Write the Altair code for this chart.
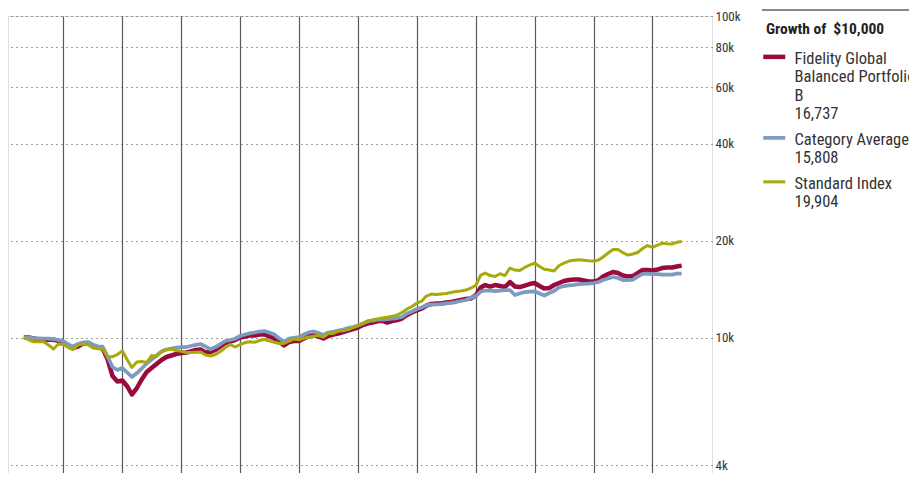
import altair as alt
import pandas as pd

# Monthly points, May 2007 .. Jul 2018
months = pd.date_range("2007-05-01", periods=135, freq="MS").strftime("%Y-%m-%d").tolist()

fidelity = [
    10000, 10000, 9929, 9858, 9823, 9865, 9837, 9767, 9648, 9410,
    9276, 9376, 9580, 9580, 9443, 9329, 9243, 8573, 7591, 7298,
    7350, 7041, 6649, 6966, 7403, 7811, 8038, 8272, 8512, 8697,
    8791, 8886, 8950, 8982, 9046, 9144, 9177, 8982, 9014, 9144,
    9376, 9614, 9718, 9823, 10000, 10072, 10144, 10144, 10217, 10217,
    10072, 9929, 9718, 9443, 9683, 9753, 9753, 9929, 10072, 10181,
    10072, 9929, 10108, 10217, 10291, 10402, 10514, 10628, 10742, 10936,
    11054, 11134, 11238, 11270, 11134, 11254, 11335, 11457, 11748, 11960,
    12133, 12308, 12575, 12711, 12756, 12756, 12848, 12894, 12987, 13080,
    13174, 13221, 13508, 14305, 14563, 14407, 14563, 14459, 14356, 14879,
    14407, 14356, 14511, 14668, 14773, 14459, 14202, 14253, 14563, 14773,
    14986, 15094, 15148, 15148, 15040, 14933, 14933, 15094, 15476, 15756,
    15983, 15869, 15587, 15476, 15531, 15869, 16214, 16214, 16156, 16272,
    16448, 16507, 16507, 16626, 16737,
]

category = [
    10000, 10000, 9964, 9943, 9929, 9929, 9893, 9823, 9753, 9511,
    9376, 9545, 9648, 9683, 9511, 9376, 9362, 8728, 8096, 7924,
    8038, 7783, 7537, 7756, 8009, 8301, 8543, 8791, 9046, 9177,
    9243, 9309, 9342, 9342, 9410, 9491, 9545, 9376, 9190, 9342,
    9545, 9753, 9823, 9914, 10108, 10217, 10305, 10365, 10439, 10476,
    10365, 10217, 9929, 9718, 9929, 9979, 10036, 10217, 10379, 10439,
    10327, 10181, 10365, 10417, 10514, 10590, 10704, 10781, 10897, 11054,
    11214, 11294, 11359, 11375, 11416, 11457, 11498, 11581, 11875, 12046,
    12264, 12396, 12602, 12665, 12683, 12711, 12775, 12820, 12894, 12987,
    13080, 13269, 13460, 13901, 14000, 14000, 13950, 14000, 14051, 14051,
    13557, 13703, 13851, 13901, 13920, 13703, 13508, 13752, 13950, 14325,
    14459, 14532, 14584, 14668, 14689, 14720, 14773, 14879, 15094, 15257,
    15422, 15312, 15094, 15094, 15148, 15476, 15778, 15812, 15756, 15756,
    15699, 15699, 15699, 15812, 15808,
]

standard_index = [
    10000, 9823, 9704, 9704, 9704, 9477, 9210, 9545, 9511, 9309,
    9177, 9477, 9545, 9511, 9296, 9223, 9210, 8716, 8716, 8854,
    9079, 8512, 8067, 8391, 8421, 8361, 8791, 8728, 9046, 9157,
    9210, 9111, 9066, 8982, 8982, 9001, 9014, 8822, 8759, 8854,
    9046, 9309, 9511, 9342, 9511, 9648, 9697, 9662, 9788, 9858,
    9767, 9662, 9580, 9580, 9753, 9893, 9837, 9943, 10036, 10094,
    10144, 10036, 10291, 10291, 10476, 10491, 10590, 10742, 10897, 11054,
    11254, 11335, 11416, 11498, 11564, 11639, 11748, 11960, 12264, 12485,
    12802, 12987, 13460, 13654, 13605, 13654, 13703, 13801, 13901, 13950,
    14051, 14253, 14511, 15643, 15869, 15587, 15476, 15789, 15587, 16448,
    16214, 16156, 16507, 16805, 17047, 16626, 16296, 16214, 16098, 16745,
    17047, 17293, 17380, 17455, 17380, 17318, 17293, 17418, 17796, 18313,
    18778, 18778, 18379, 18052, 18182, 18379, 18912, 19323, 19076, 19392,
    19630, 19560, 19532, 19771, 19904,
]

series_names = ["Fidelity Global Balanced Portfolio B", "Category Average", "Standard Index"]
series_label_lines = [["Fidelity Global", "Balanced Portfolio", "B"], ["Category Average"], ["Standard Index"]]
series_colors = ["#990A3D", "#7D9BBE", "#A6AA0A"]
series_widths = [4.5, 3, 3]
y_ticks = [4000, 10000, 20000, 40000, 60000, 80000, 100000]
year_lines = list(range(2008, 2019))
legend_title = "Growth of\u00a0 $10,000"

FONT = "Liberation Sans Narrow, Arial Narrow, Roboto Condensed, DejaVu Sans Condensed, Roboto, sans-serif"

rows = []
for name, vals in zip(series_names, [fidelity, category, standard_index]):
    for d, v in zip(months, vals):
        rows.append({"date": d, "series": name, "value": v})
df = pd.DataFrame(rows)

# multi-line legend labels: wrapped name + ending value
parts = []
for name, lines, vals in zip(series_names, series_label_lines, [fidelity, category, standard_index]):
    full = lines + [f"{vals[-1]:,}"]
    arr = "[" + ",".join("'" + s + "'" for s in full) + "]"
    parts.append((name, arr))
label_expr = (
    f"datum.label == '{parts[0][0]}' ? {parts[0][1]} : "
    f"datum.label == '{parts[1][0]}' ? {parts[1][1]} : {parts[2][1]}"
)

legend_props = dict(
    title=legend_title, orient="none", legendX=758, legendY=6,
    titleFont=FONT, titleFontSize=15.5, titleFontWeight="bold", titleColor="#222",
    titlePadding=5, labelFont=FONT, labelFontSize=16.5, labelColor="#333",
    labelBaseline="top", labelOffset=12, labelLimit=300, labelExpr=label_expr,
    symbolType="M-2,1.11L2,1.11", symbolSize=121,
    rowPadding=0, padding=0,
)

lines = alt.Chart(df).mark_line(strokeJoin="round", strokeCap="butt").encode(
    x=alt.X(
        "date:T",
        title=None,
        scale=alt.Scale(
            type="utc",
            domain=[alt.DateTime(year=2007, month=1, date=23, utc=True),
                    alt.DateTime(year=2019, month=1, date=5, utc=True)],
        ),
        axis=alt.Axis(
            values=[alt.DateTime(year=y, month=1, date=1, utc=True) for y in year_lines],
            labels=False, ticks=False, domain=False, grid=True,
            gridColor="#5a5a5a", gridWidth=1.2, gridOpacity=1,
        ),
    ),
    y=alt.Y(
        "value:Q",
        title=None,
        scale=alt.Scale(type="log", domain=[3790, 100000], nice=False, zero=False),
        axis=alt.Axis(
            orient="right", values=y_ticks, labelExpr="(datum.value / 1000) + 'k'",
            ticks=False, domain=False, grid=True, gridDash=[1, 4], gridColor="#444",
            gridWidth=1, labelPadding=3, labelFont=FONT, labelFontSize=13,
            labelColor="#333",
        ),
    ),
    color=alt.Color(
        "series:N",
        scale=alt.Scale(domain=series_names, range=series_colors),
        legend=alt.Legend(**legend_props),
    ),
    strokeWidth=alt.StrokeWidth(
        "series:N", scale=alt.Scale(domain=series_names, range=series_widths),
        legend=alt.Legend(**legend_props),
    ),
)

top_rule = alt.Chart(alt.Data(values=[{"k": 1}])).mark_rule(color="#888", strokeWidth=2).encode(
    x=alt.value(754), x2=alt.value(901), y=alt.value(-6)
)

chart = alt.layer(lines, top_rule).properties(
    width=704, height=457,
    autosize=alt.AutoSizeParams(type="none"),
    padding={"left": 0, "top": 8, "right": 197, "bottom": 0},
).configure_view(stroke=None).configure(background="white")

chart.save("out.html", embed_options={"renderer": "svg", "actions": False})
